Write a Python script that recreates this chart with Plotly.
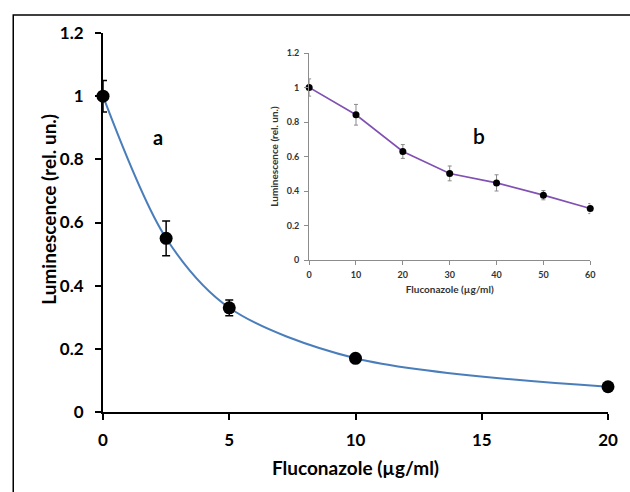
import plotly.graph_objects as go

# ---- data: main panel (a) ----
conc_a = [0, 2.5, 5, 10, 20]
lum_a = [1.0, 0.55, 0.33, 0.17, 0.08]
err_a = [0.05, 0.055, 0.025, 0.01, 0.008]

# ---- data: inset panel (b) ----
conc_b = [0, 10, 20, 30, 40, 50, 60]
lum_b = [1.0, 0.842, 0.629, 0.502, 0.447, 0.376, 0.298]
err_b = [0.05, 0.06, 0.04, 0.043, 0.047, 0.027, 0.029]

main_xticks = [0, 5, 10, 15, 20]
inset_xticks = [0, 10, 20, 30, 40, 50, 60]
yticks = [0, 0.2, 0.4, 0.6, 0.8, 1.0, 1.2]
ytick_text = ["0", "0.2", "0.4", "0.6", "0.8", "1", "1.2"]

FONT = "Lato"
W, H = 630, 492
L, R, T, B = 103, 15, 33, 80
pw, ph = W - L - R, H - T - B


def px2paper_x(px):
    return (px - L) / pw


def px2paper_y(py):
    return (H - B - py) / ph


fig = go.Figure()

# main curve
fig.add_trace(go.Scatter(
    x=conc_a, y=lum_a, mode="lines",
    line=dict(color="#4A7EBB", width=2, shape="spline", smoothing=0.9),
    cliponaxis=False, xaxis="x", yaxis="y", showlegend=False, hoverinfo="skip"))
# main points with error bars
fig.add_trace(go.Scatter(
    x=conc_a, y=lum_a, mode="markers",
    marker=dict(color="black", size=13),
    error_y=dict(type="data", array=err_a, color="black", thickness=1.5, width=4),
    cliponaxis=False, xaxis="x", yaxis="y", showlegend=False))

# inset
fig.add_trace(go.Scatter(
    x=conc_b, y=lum_b, mode="lines+markers",
    line=dict(color="#8050B2", width=1.6),
    marker=dict(color="black", size=7),
    error_y=dict(type="data", array=err_b, color="#8a8a8a", thickness=1, width=2),
    cliponaxis=False, xaxis="x2", yaxis="y2", showlegend=False))

ix0, ix1 = px2paper_x(312), px2paper_x(597)
iy0, iy1 = px2paper_y(260), px2paper_y(53)

fig.update_layout(
    width=W, height=H,
    margin=dict(l=L, r=R, t=T, b=B),
    paper_bgcolor="white", plot_bgcolor="white",
    font=dict(family=FONT, color="black"),
    xaxis=dict(
        domain=[0, 1], range=[0, 20], tickvals=main_xticks,
        showgrid=False, zeroline=False, showline=True, linecolor="black", linewidth=2,
        ticks="outside", ticklen=6, tickwidth=2, tickcolor="black",
        tickfont=dict(size=17, family=FONT, weight=700), ticklabelstandoff=6,
        title=dict(text="Fluconazole (µg/ml)", font=dict(size=19, family=FONT, weight=700),
                   standoff=12),
        anchor="y"),
    yaxis=dict(
        domain=[0, 1], range=[0, 1.2], tickvals=yticks, ticktext=ytick_text,
        showgrid=False, zeroline=False, showline=True, linecolor="black", linewidth=2,
        ticks="outside", ticklen=6, tickwidth=2, tickcolor="black",
        tickfont=dict(size=17, family=FONT, weight=700), ticklabelstandoff=8,
        anchor="x"),
    xaxis2=dict(
        domain=[ix0, ix1], range=[0, 60], tickvals=inset_xticks,
        showgrid=False, zeroline=False, showline=True, linecolor="#8c8c8c", linewidth=1,
        ticks="outside", ticklen=4, tickwidth=1, tickcolor="#8c8c8c",
        tickfont=dict(size=9, family=FONT, weight=700, color="#333"), ticklabelstandoff=2,
        title=dict(text="Fluconazole (µg/ml)", font=dict(size=10, family=FONT, weight=700, color="#333"),
                   standoff=7),
        anchor="y2"),
    yaxis2=dict(
        domain=[iy0, iy1], range=[0, 1.2], tickvals=yticks, ticktext=ytick_text,
        showgrid=False, zeroline=False, showline=True, linecolor="#8c8c8c", linewidth=1,
        ticks="outside", ticklen=4, tickwidth=1, tickcolor="#8c8c8c",
        tickfont=dict(size=9, family=FONT, weight=700, color="#333"), ticklabelstandoff=3,
        title=dict(text="Luminescence (rel. un.)", font=dict(size=10, family=FONT, weight=700, color="#333"),
                   standoff=6),
        anchor="x2"),
    annotations=[
        dict(text="Luminescence (rel. un.)", textangle=-90,
             x=px2paper_x(47), y=px2paper_y(209), xref="paper", yref="paper",
             xanchor="center", yanchor="middle", showarrow=False,
             font=dict(size=19, family=FONT, weight=700)),
        dict(text="a", x=px2paper_x(159), y=px2paper_y(137), xref="paper", yref="paper",
             xanchor="center", yanchor="middle",
             showarrow=False, font=dict(size=20, family=FONT, weight=700)),
        dict(text="b", x=px2paper_x(484), y=px2paper_y(135), xref="paper", yref="paper",
             xanchor="center", yanchor="middle",
             showarrow=False, font=dict(size=21, family=FONT, weight=600)),
    ],
    shapes=[
        dict(type="rect", xref="paper", yref="paper",
             x0=px2paper_x(12), x1=px2paper_x(660),
             y0=px2paper_y(520), y1=px2paper_y(15),
             line=dict(color="black", width=1.5), fillcolor="rgba(0,0,0,0)", layer="above"),
    ],
)

fig.write_html("out.html")
